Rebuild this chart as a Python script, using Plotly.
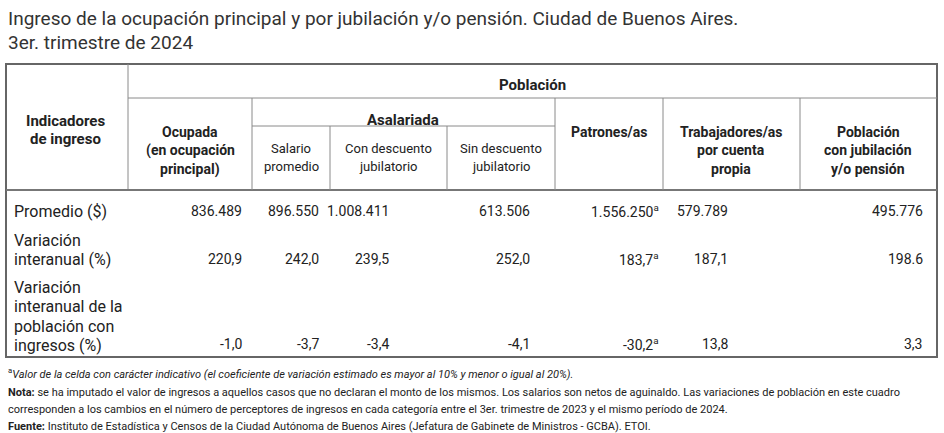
import plotly.graph_objects as go

title_lines = ["Ingreso de la ocupación principal y por jubilación y/o pensión. Ciudad de Buenos Aires.",
               "3er. trimestre de 2024"]
row_labels = [["Promedio ($)"], ["Variación", "interanual (%)"],
              ["Variación", "interanual de la", "población con", "ingresos (%)"]]
promedio = ["836.489", "896.550", "1.008.411", "613.506", "1.556.250<sup>a</sup>", "579.789", "495.776"]
var_interanual = ["220,9", "242,0", "239,5", "252,0", "183,7<sup>a</sup>", "187,1", "198.6"]
var_poblacion = ["-1,0", "-3,7", "-3,4", "-4,1", "-30,2<sup>a</sup>", "13,8", "3,3"]
data_rows = [promedio, var_interanual, var_poblacion]
footnotes = [
    "<sup>a</sup><i>Valor de la celda con carácter indicativo (el coeficiente de variación estimado es mayor al 10% y menor o igual al 20%).</i>",
    "<b>Nota:</b> se ha imputado el valor de ingresos a aquellos casos que no declaran el monto de los mismos. Los salarios son netos de aguinaldo. Las variaciones de población en este cuadro",
    "corresponden a los cambios en el número de perceptores de ingresos en cada categoría entre el 3er. trimestre de 2023 y el mismo período de 2024.",
    "<b>Fuente:</b> Instituto de Estadística y Censos de la Ciudad Autónoma de Buenos Aires (Jefatura de Gabinete de Ministros - GCBA). ETOI.",
]

NARROW = "Roboto, Liberation Sans, sans-serif"
REG = "Roboto, Liberation Sans, sans-serif"
TXT = "#222222"
LINE = "#8a8a8a"

fig = go.Figure()
shapes, ann = [], []

def line(x0, y0, x1, y1, w=1, c=LINE):
    shapes.append(dict(type="line", x0=x0, y0=y0, x1=x1, y1=y1, xref="x", yref="y",
                       line=dict(color=c, width=w)))

def text(x, y, s, size=15, anchor="center", font=NARROW, color=TXT):
    ann.append(dict(x=x, y=y, text=s, xref="x", yref="y", showarrow=False,
                    xanchor=anchor, yanchor="middle", font=dict(family=font, size=size, color=color)))

shapes.append(dict(type="rect", x0=6, y0=64, x1=937, y1=357, xref="x", yref="y",
                   line=dict(color="#666666", width=2)))
line(128, 64, 128, 190)
line(128, 98, 937, 98)
line(6, 190, 937, 190, w=2, c="#777777")
for x in [252, 555, 663, 800]:
    line(x, 98, x, 190)
line(252, 126, 555, 126)
for x in [330, 447]:
    line(x, 126, x, 190)

for i, t in enumerate(title_lines):
    text(6, 18 + 24 * i, t, size=19, anchor="left", font=REG, color="#333333")

def multi(x, ys, lines, bold=True, size=14):
    for y, l in zip(ys, lines):
        text(x, y, f"<b>{l}</b>" if bold else l, size=size)

multi(532, [85], ["Población"], size=15)
multi(65, [121, 139], ["Indicadores", "de ingreso"], size=15)
multi(190, [132, 150, 169], ["Ocupada", "(en ocupación", "principal)"])
multi(403, [120], ["Asalariada"], size=15)
multi(291, [148, 166], ["Salario", "promedio"], bold=False, size=13)
multi(388, [148, 166], ["Con descuento", "jubilatorio"], bold=False, size=13)
multi(501, [148, 166], ["Sin descuento", "jubilatorio"], bold=False, size=13)
multi(609, [132], ["Patrones/as"])
multi(731, [132, 150, 169], ["Trabajadores/as", "por cuenta", "propia"])
multi(868, [132, 150, 169], ["Población", "con jubilación", "y/o pensión"])

label_ys = [[211], [240, 259], [287, 306, 326, 345]]
value_ys = [211, 259, 344]
right_edges = [244, 321, 391, 532, 661, 730, 925]
for labels, ys in zip(row_labels, label_ys):
    for l, y in zip(labels, ys):
        text(12, y, l, size=16, anchor="left", font=REG)
for vals, y in zip(data_rows, value_ys):
    for v, x in zip(vals, right_edges):
        text(x, y, v, size=14, anchor="right", font=REG)

foot_ys = [373, 392, 409, 426]
for f, y in zip(footnotes, foot_ys):
    text(6, y, f, size=11, anchor="left")

fig.update_layout(
    width=944, height=433, margin=dict(l=0, r=0, t=0, b=0),
    paper_bgcolor="white", plot_bgcolor="white",
    xaxis=dict(range=[0, 944], visible=False, fixedrange=True),
    yaxis=dict(range=[433, 0], visible=False, fixedrange=True),
    shapes=shapes, annotations=ann, showlegend=False,
)
fig.write_html("out.html", config={"displayModeBar": False},
               post_script="document.body.style.margin='0';document.body.style.overflow='hidden';")
